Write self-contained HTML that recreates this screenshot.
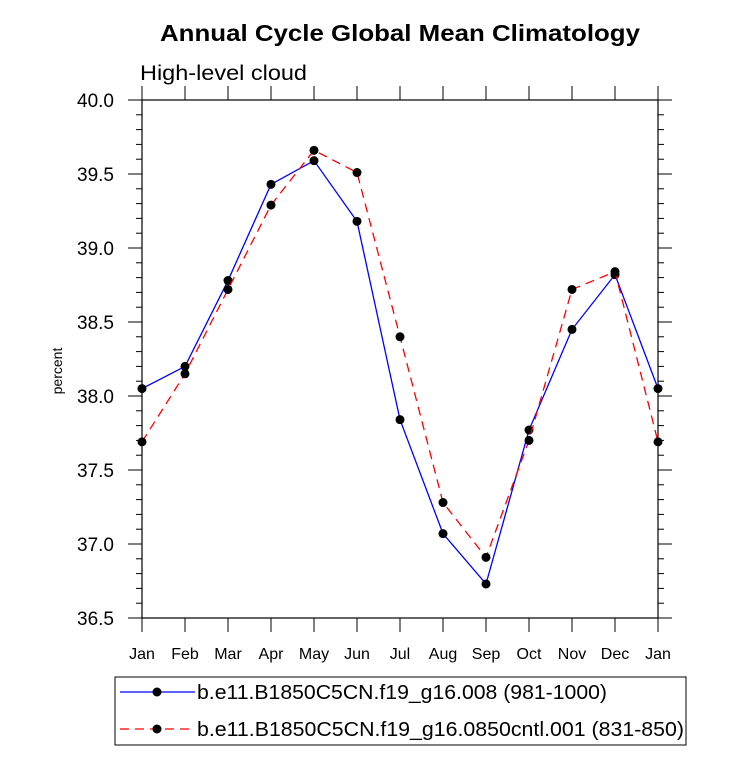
<!DOCTYPE html>
<html><head><meta charset="utf-8"><style>
body{margin:0;background:#fff;}
svg{display:block;font-family:"Liberation Sans",Arial,sans-serif;}
</style></head><body>
<svg id="c" width="733" height="768"></svg>
<script>
const months=["Jan","Feb","Mar","Apr","May","Jun","Jul","Aug","Sep","Oct","Nov","Dec","Jan"];
const seriesA=[38.05,38.20,38.78,39.43,39.59,39.18,37.84,37.07,36.73,37.77,38.45,38.82,38.05];
const seriesB=[37.69,38.15,38.72,39.29,39.66,39.51,38.40,37.28,36.91,37.70,38.72,38.84,37.69];
const yTicks=[36.5,37.0,37.5,38.0,38.5,39.0,39.5,40.0];
const yMin=36.5,yMax=40.0;
const L=142,R=658,T=100,B=618;
const sx=i=>L+(R-L)*i/(months.length-1);
const sy=v=>B-(B-T)*(v-yMin)/(yMax-yMin);
const NS="http://www.w3.org/2000/svg";
const svg=document.getElementById('c');
function mk(t,a,p){const e=document.createElementNS(NS,t);for(const k in a)e.setAttribute(k,a[k]);(p||svg).appendChild(e);return e;}
let e;
e=mk('text',{x:160,y:41,'font-size':23,'font-weight':'bold',textLength:480,lengthAdjust:'spacingAndGlyphs'});e.textContent='Annual Cycle Global Mean Climatology';


e=mk('text',{x:140,y:80,'font-size':21,textLength:167,lengthAdjust:'spacingAndGlyphs'});e.textContent='High-level cloud';


e=mk('rect',{x:L,y:T,width:R-L,height:B-T,fill:'none',stroke:'#000','stroke-width':1.2});


for(let k=0;k<=35;k++){
 const v=yMin+k*0.1;const y=sy(v);const maj=k%5===0;const len=maj?14:6;
 mk('line',{x1:L,x2:L-len,y1:y,y2:y,stroke:'#000'});
 mk('line',{x1:R,x2:R+len,y1:y,y2:y,stroke:'#000'});
}
yTicks.forEach(v=>{e=mk('text',{x:114,y:sy(v)+7,'text-anchor':'end','font-size':19});e.textContent=v.toFixed(1);

});
months.forEach((m,i)=>{const x=sx(i);
 mk('line',{x1:x,x2:x,y1:B,y2:B+14,stroke:'#000'});mk('line',{x1:x,x2:x,y1:T,y2:T-14,stroke:'#000'});
 e=mk('text',{x:x,y:659,'text-anchor':'middle','font-size':16});e.textContent=m;
 
 });
e=mk('text',{x:62,y:(T+B)/2+12,'text-anchor':'middle','font-size':14,transform:`rotate(-90 62 ${(T+B)/2+12})`});e.textContent='percent';


function series(vals,color,dash,name){
 const g=mk('g',{});
 
 
 mk('polyline',{points:vals.map((v,i)=>sx(i)+','+sy(v)).join(' '),fill:'none',stroke:color,'stroke-width':1.3,'stroke-dasharray':dash},g);
 vals.forEach((v,i)=>{const c=mk('circle',{cx:sx(i),cy:sy(v),r:4.5,fill:'#000'},g);
 
 });
}
series(seriesA,'#0000ff','none','series-008');
series(seriesB,'#ff0000','9,6','series-0850cntl');
const lg=mk('g',{});


mk('rect',{x:115,y:677,width:571,height:68,fill:'none',stroke:'#000'},lg);
mk('line',{x1:120,x2:195,y1:692,y2:692,stroke:'#0000ff','stroke-width':1.3},lg);
mk('circle',{cx:157,cy:692,r:4.5},lg);
e=mk('text',{x:197,y:699,'font-size':20,textLength:410,lengthAdjust:'spacingAndGlyphs'},lg);e.textContent='b.e11.B1850C5CN.f19_g16.008 (981-1000)';


mk('line',{x1:120,x2:195,y1:729,y2:729,stroke:'#ff0000','stroke-width':1.3,'stroke-dasharray':'9,6'},lg);
mk('circle',{cx:157,cy:729,r:4.5},lg);
e=mk('text',{x:197,y:736,'font-size':20,textLength:487,lengthAdjust:'spacingAndGlyphs'},lg);e.textContent='b.e11.B1850C5CN.f19_g16.0850cntl.001 (831-850)';


</script>
</body></html>
